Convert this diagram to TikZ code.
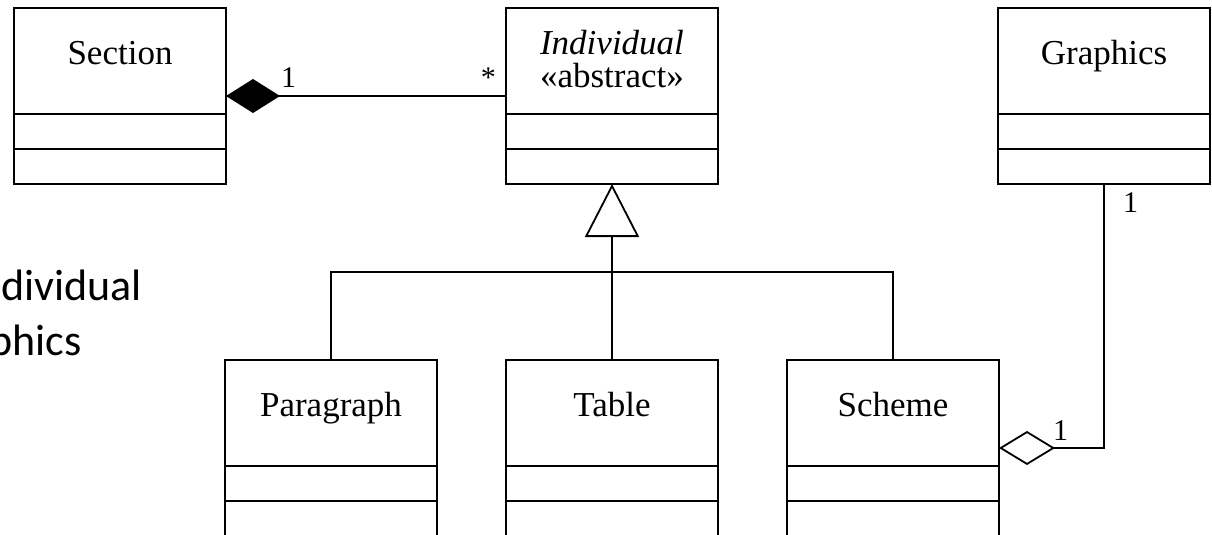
\documentclass[tikz,border=0pt]{standalone}
\usepackage{fontspec}
\setmainfont{Liberation Serif}
\newfontfamily\slidefont{Carlito}
\usepackage{tikz}
\usetikzlibrary{arrows.meta, positioning, calc}

\begin{document}
\begin{tikzpicture}[x=1pt, y=-1pt,
    umlclass/.style={draw, rectangle, line width=2.8pt, minimum width=212pt,
        minimum height=176pt, inner sep=0pt, outer sep=0pt},
    classname/.style={anchor=base, inner sep=0pt, font=\fontsize{35}{35}\selectfont},
    mult/.style={inner sep=0pt, font=\fontsize{30}{30}\selectfont},
    divider/.style={line width=1.8pt},
    assoc/.style={line width=1.8pt},
    slidetext/.style={anchor=base east, inner sep=0pt, font=\slidefont\fontsize{44}{44}\selectfont}]
    \useasboundingbox (0,0) rectangle (1212,535);

    % classes
    \node[umlclass] (section)    at (120,96)  {};
    \node[umlclass] (individual) at (612,96)  {};
    \node[umlclass] (graphics)   at (1104,96) {};
    \node[umlclass] (paragraph)  at (331,448) {};
    \node[umlclass] (table)      at (612,448) {};
    \node[umlclass] (scheme)     at (893,448) {};

    \foreach \cls in {section,individual,graphics,paragraph,table,scheme}{
        \draw[divider] ($(\cls.north west)+(0,106)$) -- ($(\cls.north east)+(0,106)$);
        \draw[divider] ($(\cls.north west)+(0,141)$) -- ($(\cls.north east)+(0,141)$);
    }

    \node[classname] (section-name)    at ($(section.north)+(0,56)$)   {Section};
    \node[classname] (individual-name) at ($(individual.north)+(0,47)$) {\textit{Individual}};
    \node[classname] (individual-kind) at ($(individual.north)+(0,80)$) {«abstract»};
    \node[classname] (graphics-name)   at ($(graphics.north)+(0,56)$)  {Graphics};
    \node[classname] (paragraph-name)  at ($(paragraph.north)+(0,56)$) {Paragraph};
    \node[classname] (table-name)      at ($(table.north)+(0,56)$)     {Table};
    \node[classname] (scheme-name)     at ($(scheme.north)+(0,56)$)    {Scheme};

    % composition Section -- Individual
    \draw[assoc, {Diamond[length=54pt,width=34pt]}-] (section.east) -- (individual.west);
    \node[mult, anchor=base west] (m-section)    at ($(section.east)+(55,-9)$)     {1};
    \node[mult, anchor=base east] (m-individual) at ($(individual.west)+(-10,-9)$) {*};

    % inheritance
    \coordinate (bus) at (612,272);
    \draw[assoc, -{Triangle[open,length=53pt,width=54pt]}] (table.north) -- (individual.south);
    \draw[assoc] (paragraph.north) |- (bus) -| (scheme.north);

    % aggregation Scheme -- Graphics
    \draw[assoc, {Diamond[open,length=56pt,width=34pt]}-] (scheme.east) -| (graphics.south);
    \node[mult, anchor=base west] (m-graphics) at ($(graphics.south)+(19,28)$) {1};
    \node[mult, anchor=base west] (m-scheme)   at ($(scheme.east)+(54,-8)$)    {1};

    % slide text behind
    \node[slidetext] (slide-a) at (142,300) {dividual};
    \node[slidetext] (slide-b) at (82,355)  {phics};
\end{tikzpicture}
\end{document}
